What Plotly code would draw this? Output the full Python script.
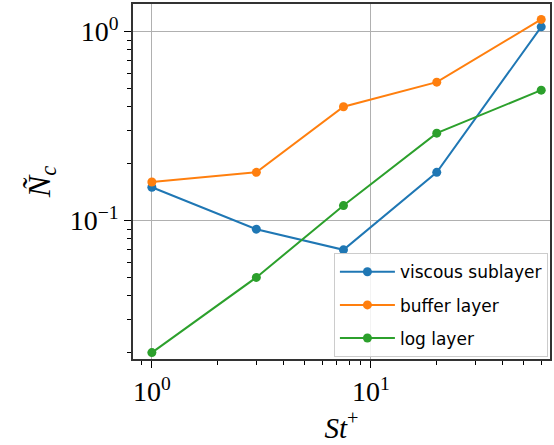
import plotly.graph_objects as go
import numpy as np

st = [1.0, 3.0, 7.5, 20.0, 60.0]
viscous = [0.15, 0.09, 0.07, 0.18, 1.06]
buffer = [0.16, 0.18, 0.40, 0.54, 1.16]
loglayer = [0.02, 0.05, 0.12, 0.29, 0.49]
names = ["viscous sublayer", "buffer layer", "log layer"]
colors = ["#1f77b4", "#ff7f0e", "#2ca02c"]

fig = go.Figure()
for name, ys, c in zip(names, [viscous, buffer, loglayer], colors):
    fig.add_trace(go.Scatter(x=st, y=ys, mode="lines+markers", name=name,
                             legendgroup=name,
                             line=dict(color=c, width=2),
                             marker=dict(color=c, size=9)))

xminor = [v * 10**k for k in (-1, 0, 1) for v in range(2, 10)]
yminor = [v * 10**k for k in (-2, -1, 0) for v in range(2, 10)]
serif = "Liberation Serif, DejaVu Serif, serif"

fig.update_layout(
    width=554, height=445,
    margin=dict(l=133, r=2, t=2, b=86),
    plot_bgcolor="white", paper_bgcolor="white",
    showlegend=True,
    legend=dict(x=0.995, y=0.005, xanchor="right", yanchor="bottom",
                bgcolor="rgba(255,255,255,0.85)", bordercolor="#cccccc", borderwidth=1,
                font=dict(family="DejaVu Sans", size=17, color="black"),
                traceorder="grouped", tracegroupgap=8, itemwidth=55),
    xaxis=dict(type="log", range=[np.log10(0.82), np.log10(65.8)],
               tickvals=[1, 10], ticktext=["10<sup>0</sup>", "10<sup>1</sup>"],
               ticks="outside", ticklen=7, tickcolor="black",
               showgrid=True, gridcolor="#b0b0b0", gridwidth=1,
               showline=True, linecolor="#333333", linewidth=1.5, mirror=True,
               tickfont=dict(family=serif, size=28, color="black"),
               minor=dict(tickvals=xminor, ticks="outside", ticklen=4, tickcolor="black", showgrid=False),
               title=dict(text="<i>St</i><sup>+</sup>", font=dict(family=serif, size=29, color="black"), standoff=0),
               zeroline=False),
    yaxis=dict(type="log", range=[np.log10(0.0185), np.log10(1.40)],
               tickvals=[0.1, 1], ticktext=["10<sup>−1</sup>", "10<sup>0</sup>"],
               ticks="outside", ticklen=7, tickcolor="black",
               showgrid=True, gridcolor="#b0b0b0", gridwidth=1,
               showline=True, linecolor="#333333", linewidth=1.5, mirror=True,
               tickfont=dict(family=serif, size=28, color="black"),
               minor=dict(tickvals=yminor, ticks="outside", ticklen=4, tickcolor="black", showgrid=False),
               title=dict(text="<i>Ñ</i><sub><i>c</i></sub>", font=dict(family=serif, size=32, color="black"), standoff=10),
               zeroline=False),
)
fig.write_html("out.html", config={"displayModeBar": False},
               post_script="document.body.style.margin='0';")
